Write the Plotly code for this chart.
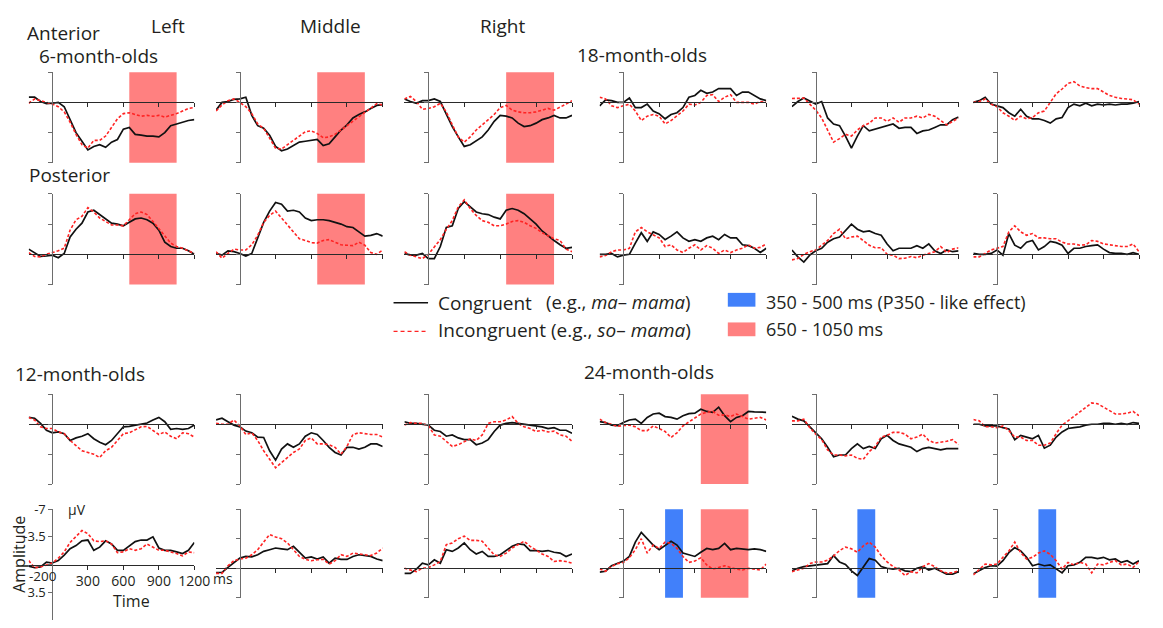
import plotly.graph_objects as go

# page body has an 8px default margin: keep the figure inside the 1163x628 window
OFF = 8
FW, FH = 1163 - 2 * OFF, 628 - 2 * OFF
TIMES = list(range(-200, 1201, 50))

# ---------------- data (µV, negative plotted up) ----------------
# 6-month-olds, anterior
m6_ant_L_con = [-0.6,-0.6,-0.1,0.15,0.1,0.0,0.5,2.1,3.5,4.5,5.5,5.1,4.9,5.2,4.6,4.3,3.1,2.9,3.7,3.8,3.9,3.9,4.0,3.5,2.7,2.5,2.3,2.1,2.0]
m6_ant_L_inc = [0.1,-0.4,-0.2,0.0,0.2,0.5,1.1,2.3,3.7,4.9,5.3,4.4,4.4,3.9,2.9,1.9,1.3,1.2,1.4,1.6,1.5,1.6,1.5,1.7,1.5,1.3,1.0,0.7,0.6]
m6_ant_M_con = [0.9,0.0,-0.1,-0.35,-0.4,-0.6,1.5,2.7,3.0,3.8,5.1,5.6,5.4,5.0,4.6,4.5,4.4,4.3,5.0,4.8,4.0,3.2,2.6,1.8,1.4,1.1,0.7,0.35,0.25]
m6_ant_M_inc = [1.0,0.3,-0.2,-0.4,0.0,0.5,1.3,2.5,3.0,4.1,5.3,5.4,4.9,4.5,3.9,3.4,3.3,3.6,4.1,4.0,3.7,3.2,2.7,2.1,1.6,1.1,0.7,0.15,0.3]
m6_ant_R_con = [-0.4,-0.1,0.1,-0.2,-0.2,-0.4,-0.1,1.4,2.8,4.0,5.1,4.9,4.4,4.0,3.2,2.2,1.5,1.6,1.8,2.4,2.8,2.7,2.4,2.0,1.8,1.5,1.8,1.8,1.5]
m6_ant_R_inc = [-0.4,-0.7,-0.1,0.8,0.7,0.5,0.1,1.1,2.6,4.0,4.6,4.0,3.2,2.6,2.1,1.4,0.6,0.35,0.9,1.1,1.2,1.2,1.1,0.9,0.7,0.9,0.5,0.2,-0.2]
# 6-month-olds, posterior
m6_post_L_con = [-0.6,-0.15,0.25,0.2,0.1,0.4,-0.1,-2.0,-2.9,-3.6,-4.9,-5.1,-4.6,-4.0,-3.6,-3.5,-3.3,-3.7,-4.1,-4.2,-4.0,-3.6,-2.8,-1.4,-0.9,-0.7,-0.7,-0.4,0.0]
m6_post_L_inc = [-0.2,0.25,0.3,0.0,-0.2,-0.4,-0.7,-2.8,-4.0,-4.4,-5.4,-4.9,-4.2,-3.8,-3.4,-3.4,-3.3,-4.0,-4.7,-4.9,-4.6,-3.8,-3.0,-2.1,-1.3,-0.9,-0.7,-0.4,-0.1]
m6_post_M_con = [-0.1,0.1,-0.4,-0.3,-0.1,0.2,-0.1,-1.8,-3.7,-5.0,-6.0,-5.8,-5.0,-5.1,-4.9,-4.2,-3.9,-4.0,-4.0,-3.9,-3.7,-3.5,-3.2,-3.1,-2.6,-2.1,-2.2,-2.4,-2.1]
m6_post_M_inc = [-0.3,0.45,-0.1,-0.6,-0.5,-0.5,-1.1,-2.2,-3.7,-4.5,-5.0,-4.2,-3.3,-2.6,-1.8,-1.6,-1.35,-1.3,-1.6,-1.7,-1.4,-1.1,-1.05,-1.0,-1.4,-1.05,-0.2,0.0,-0.5]
m6_post_R_con = [-0.1,0.1,0.1,-0.1,0.5,0.5,-0.9,-3.1,-3.3,-5.3,-6.1,-5.5,-4.9,-4.7,-4.6,-4.3,-4.1,-5.1,-5.3,-5.1,-4.7,-4.1,-3.5,-2.7,-2.1,-1.6,-1.1,-0.7,-0.8]
m6_post_R_inc = [-0.3,0.1,0.3,0.5,0.0,-0.9,-1.7,-2.9,-3.9,-5.5,-6.3,-5.3,-4.5,-3.9,-3.7,-3.3,-3.3,-3.5,-3.8,-3.9,-3.7,-3.3,-3.0,-2.5,-2.1,-1.8,-1.6,-0.6,-0.3]
# 18-month-olds, anterior
m18_ant_L_con = [0.4,-0.3,-0.2,0.0,0.0,-0.5,0.6,0.6,0.2,1.0,1.3,1.9,1.4,1.2,0.6,-0.6,-0.8,-1.4,-1.05,-1.2,-1.6,-1.6,-1.6,-0.8,-1.2,-1.2,-0.8,-0.4,-0.2]
m18_ant_L_inc = [-0.6,-0.4,0.4,0.6,0.4,0.2,1.0,2.1,1.6,1.4,1.6,2.5,2.1,1.6,1.0,0.2,0.3,0.0,-0.8,-0.9,-0.1,-0.6,-0.9,0.0,0.0,0.0,0.2,-0.1,0.0]
m18_ant_M_con = [0.5,-0.1,-0.5,-0.1,0.2,-0.1,1.8,2.5,2.7,3.9,5.3,3.9,2.7,3.3,3.1,2.9,2.7,2.5,3.0,2.9,2.9,3.6,3.3,3.2,2.9,2.6,2.6,2.0,1.7]
m18_ant_M_inc = [-0.45,-0.45,-0.5,0.2,0.9,1.8,3.3,4.6,4.2,3.7,3.9,3.2,2.7,2.4,1.8,1.8,2.2,1.8,2.3,1.8,1.8,1.6,1.8,1.4,1.6,2.1,2.6,2.2,1.8]
m18_ant_R_con = [0.0,-0.2,-0.6,0.2,0.4,0.6,1.2,1.6,0.8,1.6,1.9,1.9,2.1,2.4,1.9,1.75,0.6,0.2,0.4,0.1,0.4,0.2,0.3,0.2,0.3,0.2,0.2,0.1,-0.1]
m18_ant_R_inc = [0.0,-0.1,-0.4,0.2,0.5,1.2,1.6,2.1,1.6,1.9,1.75,1.2,1.0,0.0,-1.0,-1.55,-2.2,-2.4,-1.9,-1.7,-1.6,-1.6,-1.2,-0.8,-0.6,-0.45,-0.4,-0.3,0.2]
# 18-month-olds, posterior
m18_post_L_con = [0.0,0.0,-0.1,0.3,0.1,0.0,-1.3,-2.5,-1.5,-2.6,-2.3,-1.7,-2.1,-2.6,-1.9,-1.5,-1.7,-1.5,-1.9,-2.1,-1.7,-2.3,-1.9,-1.9,-1.1,-1.0,-0.7,-0.2,-0.7]
m18_post_L_inc = [0.3,0.15,-0.3,-0.5,-0.5,-0.7,-2.6,-3.1,-2.6,-2.2,-1.9,-0.9,-1.1,-0.5,-0.2,-0.7,-1.1,-0.5,-1.0,-0.7,-0.1,-0.5,-0.2,-0.5,-0.7,-1.1,-0.7,-0.8,-1.2]
m18_post_M_con = [-0.5,0.3,0.9,0.1,-0.4,-0.7,-1.4,-1.8,-2.0,-2.7,-3.5,-2.9,-2.6,-2.7,-2.4,-2.2,-1.2,-0.4,-0.7,-0.7,-0.7,-1.0,-0.7,-1.2,-0.4,-0.1,-0.5,-0.3,-0.4]
m18_post_M_inc = [0.65,0.5,0.0,-0.3,-0.5,-1.05,-1.6,-2.4,-2.9,-1.8,-2.0,-2.1,-1.6,-1.05,-0.75,-0.75,0.0,0.1,0.5,0.45,0.25,0.4,0.1,-0.1,-0.3,-0.9,-0.2,-0.6,-0.75]
m18_post_R_con = [-0.1,0.0,0.0,-0.1,-0.5,0.1,-2.4,-1.05,-0.7,-1.4,-1.6,-0.5,-0.9,-1.5,-1.35,-1.05,-0.1,-0.7,-0.7,-0.9,-1.0,-1.1,-0.6,-0.2,-0.1,-0.1,0.0,-0.2,0.0]
m18_post_R_inc = [0.3,0.3,-0.1,-0.5,-0.7,-0.9,-2.6,-3.3,-2.6,-2.2,-2.4,-1.9,-1.9,-1.8,-1.8,-1.4,-1.2,-1.2,-1.05,-1.1,-1.6,-1.5,-1.2,-1.1,-1.0,-0.9,-0.9,-1.2,-0.3]
# 12-month-olds, anterior
m12_ant_L_con = [-0.8,-0.7,-0.1,0.7,1.0,0.9,1.1,1.9,1.6,1.4,1.1,1.7,2.1,2.4,1.9,1.1,0.3,0.25,0.1,0.0,-0.15,-0.5,-0.8,-0.3,0.6,0.5,0.6,0.5,0.1]
m12_ant_L_inc = [-0.8,-0.5,0.3,0.5,0.5,0.9,1.1,1.9,2.5,3.1,3.3,3.5,3.9,3.1,2.7,1.9,1.1,1.0,0.6,0.3,0.25,0.7,1.2,0.9,1.4,1.7,1.0,1.1,1.5]
m12_ant_M_con = [-0.5,-0.7,-0.3,0.1,0.3,0.8,1.0,1.5,1.55,3.1,4.2,2.9,2.3,2.7,2.3,1.4,1.0,1.2,1.9,2.7,3.3,3.6,2.7,2.7,2.9,2.7,2.3,2.3,2.6]
m12_ant_M_inc = [-0.1,0.0,0.0,-0.5,0.2,1.2,1.0,1.9,3.1,4.1,5.1,4.5,3.9,3.3,2.9,1.9,1.6,2.3,2.3,2.4,2.7,3.5,2.6,1.2,1.0,1.1,1.2,1.2,1.5]
m12_ant_R_con = [-0.3,-0.1,-0.1,0.0,0.1,0.7,0.85,1.4,1.25,1.6,1.8,1.8,2.4,2.2,1.8,0.85,0.1,-0.1,-0.2,-0.1,0.0,0.1,0.15,0.3,0.5,0.4,0.7,0.7,1.05]
m12_ant_R_inc = [0.1,-0.2,-0.1,-0.1,0.15,1.25,1.4,2.0,2.6,2.4,2.0,1.7,1.9,1.25,-0.1,-0.3,-0.3,-0.5,-0.9,-0.1,0.3,0.5,0.85,0.7,0.9,0.8,1.25,1.4,2.0]
# 12-month-olds, posterior
m12_post_L_con = [0.2,0.4,0.3,-0.3,-0.2,-0.5,-1.2,-2.0,-2.4,-3.0,-3.1,-1.8,-2.2,-3.0,-2.6,-1.8,-1.8,-2.4,-2.9,-3.1,-3.1,-3.5,-2.1,-1.8,-1.8,-1.6,-1.4,-1.8,-2.8]
m12_post_L_inc = [-0.5,0.4,0.3,0.0,-0.2,-0.8,-1.6,-2.8,-3.6,-4.3,-3.9,-3.0,-2.9,-3.0,-2.6,-1.5,-1.6,-2.0,-1.8,-2.0,-2.6,-2.2,-1.8,-1.8,-1.6,-1.4,-1.1,-1.6,-1.5]
m12_post_M_con = [0.5,0.5,-0.1,-0.7,-1.2,-1.4,-1.35,-1.6,-2.0,-2.2,-2.4,-2.3,-2.2,-2.6,-1.9,-1.2,-1.35,-1.1,-1.35,-0.6,-1.2,-1.05,-1.05,-1.4,-1.6,-1.5,-1.4,-1.1,-0.9]
m12_post_M_inc = [0.6,0.6,-0.3,-0.9,-1.1,-1.2,-1.6,-2.2,-3.1,-4.0,-3.7,-3.5,-3.0,-2.2,-1.4,-1.05,-0.9,-1.0,-1.05,-0.5,-0.9,-1.6,-1.4,-1.8,-1.7,-1.6,-1.5,-1.8,-2.4]
m12_post_R_con = [0.6,0.6,0.1,-0.6,-0.4,-1.0,-0.6,-2.2,-2.0,-2.4,-3.0,-2.2,-1.7,-2.0,-1.4,-1.4,-1.6,-2.1,-2.6,-2.9,-2.8,-2.1,-2.1,-2.0,-2.1,-1.9,-1.8,-1.4,-1.7]
m12_post_R_inc = [0.0,0.2,0.4,0.0,-0.1,-0.4,-0.8,-2.8,-3.0,-3.5,-3.8,-3.3,-3.3,-3.2,-2.4,-1.6,-1.4,-1.8,-2.4,-2.8,-3.2,-2.6,-2.1,-1.7,-1.4,-0.8,-0.9,-0.8,-0.6]
# 24-month-olds, anterior
m24_ant_L_con = [-0.3,-0.2,0.1,0.15,-0.2,-0.5,-0.6,-0.1,-0.8,-1.2,-1.3,-0.9,-0.8,-0.6,-1.0,-1.25,-1.3,-1.75,-1.5,-1.4,-2.0,-1.0,-0.3,-0.8,-1.0,-1.5,-1.45,-1.45,-1.4]
m24_ant_L_inc = [-0.6,-0.2,0.0,0.25,0.15,0.1,0.3,0.75,0.75,0.2,0.5,0.85,1.55,1.0,0.2,-0.3,-0.7,-1.2,-1.4,-1.5,-1.05,-1.1,-0.9,-1.2,-0.9,-0.6,-0.7,-0.8,-0.5]
m24_ant_M_con = [-0.95,-0.6,-0.4,0.3,0.95,1.7,2.7,3.8,3.6,3.6,2.85,2.3,2.85,2.6,2.85,1.7,1.3,1.9,2.3,2.5,2.7,3.2,2.85,2.7,2.85,3.0,2.85,2.85,2.85]
m24_ant_M_inc = [-0.4,-0.4,-0.6,0.4,1.15,1.8,3.0,3.6,3.6,3.7,3.6,4.0,4.1,3.2,2.6,1.5,1.3,0.95,0.95,1.15,1.7,1.5,1.15,1.9,2.2,2.1,2.0,1.8,2.4]
m24_ant_R_con = [0.0,0.0,0.2,0.2,0.2,0.4,0.55,1.8,1.3,1.5,1.7,1.3,2.8,2.45,1.5,0.9,0.5,0.4,0.3,0.1,0.0,0.0,-0.1,-0.1,0.0,-0.1,0.0,-0.2,-0.1]
m24_ant_R_inc = [-0.55,-0.4,0.3,0.3,0.4,0.2,0.75,1.5,1.5,1.9,1.9,2.45,2.45,2.2,1.1,0.1,-0.4,-0.9,-1.4,-1.9,-2.5,-2.4,-2.0,-1.5,-1.2,-1.2,-1.3,-1.5,-1.0]
# 24-month-olds, posterior
m24_post_L_con = [0.45,0.35,-0.3,-0.55,-0.85,-1.4,-3.1,-4.25,-3.5,-2.75,-2.2,-2.75,-3.2,-2.75,-1.8,-1.6,-1.4,-1.9,-2.35,-2.2,-2.35,-2.95,-2.2,-2.35,-2.3,-2.2,-2.3,-2.2,-2.0]
m24_post_L_inc = [0.1,0.35,-0.2,-0.55,-0.7,-1.25,-2.2,-3.5,-1.8,-2.75,-2.35,-3.1,-2.95,-2.35,-1.4,-0.7,-0.85,-1.25,-0.4,0.1,-0.1,-0.3,-0.1,0.1,0.2,0.0,0.1,0.2,-0.5]
m24_post_M_con = [0.3,0.0,-0.2,-0.3,-0.4,-0.45,-0.55,-1.5,-0.75,-0.45,0.3,0.85,-0.2,-1.15,-0.95,-0.2,0.0,0.1,0.0,0.3,0.4,0.0,-0.2,0.2,0.0,0.4,0.7,0.7,0.4]
m24_post_M_inc = [0.4,0.2,0.0,-0.55,-0.75,-0.75,-0.95,-1.45,-2.1,-2.5,-2.3,-1.9,-2.65,-3.1,-2.5,-1.5,-0.75,-0.2,0.2,0.85,0.4,0.55,-0.2,-0.55,-0.2,0.3,0.55,0.55,0.3]
m24_post_R_con = [0.65,0.3,-0.1,-0.3,-0.25,-0.9,-1.85,-2.45,-2.05,-1.3,-0.3,-0.5,-0.3,-0.4,0.1,0.55,-0.3,-0.4,-0.7,-1.3,-1.3,-1.15,-1.3,-1.0,-1.1,-0.7,-0.9,-0.5,-0.9]
m24_post_R_inc = [0.8,0.15,-0.5,-0.4,-0.5,-1.3,-2.05,-3.1,-1.85,-1.1,-1.3,-1.8,-2.05,-1.65,-0.9,0.1,-0.7,-0.4,-0.7,-0.5,0.55,-0.5,-0.4,-0.7,-0.9,-0.4,-0.5,-0.1,-0.8]

RED_WIN = [650, 1050]
BLUE_WIN = [350, 500]

X_TICKS = [300, 600, 900, 1200]
X_TICK_TEXT = ["300", "600", "900", "1200"]
Y_TICKS = [-7, -3.5, 0, 3.5, 7]
Y_TICK_TEXT = ["-7", "-3.5", "", "3.5", "-7"]

# ---------------- layout geometry (window pixels) ----------------
COLS = [(29, 197), (219, 388), (410, 580), (608, 777), (803, 972), (987, 1155)]
# (top px, bottom px, value at top, value at bottom)
ROWS = [(64, 156, -3.5, 7), (187.5, 279.5, -7, 3.5), (391, 482, -3.5, 7), (507.5, 597.5, -7, 3.5)]


def px2x(px):
    return min(1.0, max(0.0, (px - OFF) / FW))


def py2y(py):
    return min(1.0, max(0.0, 1 - (py - OFF) / FH))


panels = [
    (0, 0, m6_ant_L_con, m6_ant_L_inc, ["red"]),
    (0, 1, m6_ant_M_con, m6_ant_M_inc, ["red"]),
    (0, 2, m6_ant_R_con, m6_ant_R_inc, ["red"]),
    (0, 3, m18_ant_L_con, m18_ant_L_inc, []),
    (0, 4, m18_ant_M_con, m18_ant_M_inc, []),
    (0, 5, m18_ant_R_con, m18_ant_R_inc, []),
    (1, 0, m6_post_L_con, m6_post_L_inc, ["red"]),
    (1, 1, m6_post_M_con, m6_post_M_inc, ["red"]),
    (1, 2, m6_post_R_con, m6_post_R_inc, ["red"]),
    (1, 3, m18_post_L_con, m18_post_L_inc, []),
    (1, 4, m18_post_M_con, m18_post_M_inc, []),
    (1, 5, m18_post_R_con, m18_post_R_inc, []),
    (2, 0, m12_ant_L_con, m12_ant_L_inc, []),
    (2, 1, m12_ant_M_con, m12_ant_M_inc, []),
    (2, 2, m12_ant_R_con, m12_ant_R_inc, []),
    (2, 3, m24_ant_L_con, m24_ant_L_inc, ["red"]),
    (2, 4, m24_ant_M_con, m24_ant_M_inc, []),
    (2, 5, m24_ant_R_con, m24_ant_R_inc, []),
    (3, 0, m12_post_L_con, m12_post_L_inc, []),
    (3, 1, m12_post_M_con, m12_post_M_inc, []),
    (3, 2, m12_post_R_con, m12_post_R_inc, []),
    (3, 3, m24_post_L_con, m24_post_L_inc, ["blue", "red"]),
    (3, 4, m24_post_M_con, m24_post_M_inc, ["blue"]),
    (3, 5, m24_post_R_con, m24_post_R_inc, ["blue"]),
]

FONT = "Open Sans, Lato, sans-serif"
TXT = "#231f20"
RED_FILL = "#ff8080"
BLUE_FILL = "#4180fa"
CON_COLOR = "#111111"
INC_COLOR = "#ff2323"

fig = go.Figure()
layout = dict(
    width=FW, height=FH, margin=dict(l=0, r=0, t=0, b=0),
    paper_bgcolor="white", plot_bgcolor="rgba(0,0,0,0)",
    showlegend=False, font=dict(family=FONT, color=TXT),
)
shapes = []
annotations = []

for k, (r, c, con, inc, shades) in enumerate(panels, start=1):
    xa = "x" if k == 1 else f"x{k}"
    ya = "y" if k == 1 else f"y{k}"
    xkey = "xaxis" if k == 1 else f"xaxis{k}"
    ykey = "yaxis" if k == 1 else f"yaxis{k}"
    labeled = (r == 3 and c == 0)
    x0p, x1p = COLS[c]
    ytop, ybot, vtop, vbot = ROWS[r]
    if labeled:
        ybot, vbot = 620, 7
    xdom = [px2x(x0p), px2x(x1p)]
    ydom = [py2y(ybot), py2y(ytop)]
    yzero = ydom[0] + (vbot - 0) / (vbot - vtop) * (ydom[1] - ydom[0])
    xzero = xdom[0] + (0 - (-200)) / 1400 * (xdom[1] - xdom[0])
    yt = [v for v in Y_TICKS if min(vtop, vbot) <= v <= max(vtop, vbot)]

    layout[xkey] = dict(
        domain=xdom, range=[-200, 1200], anchor="free", position=yzero,
        showline=True, linecolor="#2a2a2a", linewidth=1, showgrid=False, zeroline=False,
        ticks="outside", ticklen=4, tickwidth=1, tickcolor="#2a2a2a",
        tickvals=X_TICKS, ticktext=X_TICK_TEXT, showticklabels=labeled,
        tickfont=dict(family=FONT, size=14, color=TXT),
    )
    layout[ykey] = dict(
        domain=ydom, range=[vbot, vtop], anchor="free", position=xzero,
        showline=True, linecolor="#6d6d6d", linewidth=1, showgrid=False, zeroline=False,
        ticks="outside", ticklen=4, tickwidth=1, tickcolor="#6d6d6d",
        tickvals=yt, ticktext=[Y_TICK_TEXT[Y_TICKS.index(v)] for v in yt],
        showticklabels=labeled,
        tickfont=dict(family=FONT, size=13, color=TXT),
    )
    for s in shades:
        win = RED_WIN if s == "red" else BLUE_WIN
        shapes.append(dict(
            type="rect", xref=xa, yref=f"{ya} domain", x0=win[0], x1=win[1], y0=0, y1=1,
            fillcolor=RED_FILL if s == "red" else BLUE_FILL, line=dict(width=0), layer="below",
        ))
    fig.add_trace(go.Scatter(x=TIMES, y=con, xaxis=xa, yaxis=ya, mode="lines",
                             line=dict(color=CON_COLOR, width=1.7), hoverinfo="skip"))
    fig.add_trace(go.Scatter(x=TIMES, y=inc, xaxis=xa, yaxis=ya, mode="lines",
                             line=dict(color=INC_COLOR, width=1.6, dash="3px,2px"), hoverinfo="skip"))


def ann(text, px, py, size, xanchor="left", angle=0):
    annotations.append(dict(
        text=text, x=px2x(px), y=py2y(py), xref="paper", yref="paper",
        xanchor=xanchor, yanchor="middle", showarrow=False, textangle=angle,
        font=dict(family=FONT, size=size, color=TXT),
    ))


# titles
ann("Anterior", 25, 24, 19)
ann("6-month-olds", 37, 48, 19)
ann("Left", 170, 17, 19, "center")
ann("Middle", 335, 17, 19, "center")
ann("Right", 510, 17, 19, "center")
ann("Posterior", 27, 168, 19)
ann("18-month-olds", 583, 47, 19)
ann("12-month-olds", 13, 370, 19)
ann("24-month-olds", 590, 368, 19)

# axis labels of the annotated panel
ann("-200", 43, 575, 13.5, "center")
ann("ms", 214, 578, 14)
ann("µV", 67, 508, 14)
ann("Time", 133, 601, 16, "center")
ann("Amplitude", 19, 553, 16, "center", -90)

# legend
shapes.append(dict(type="line", xref="paper", yref="paper", x0=px2x(399), x1=px2x(434),
                   y0=py2y(298), y1=py2y(298), line=dict(color=CON_COLOR, width=1.3)))
shapes.append(dict(type="line", xref="paper", yref="paper", x0=px2x(399), x1=px2x(434),
                   y0=py2y(327), y1=py2y(327), line=dict(color=INC_COLOR, width=1.3, dash="4px,3px")))
ann("Congruent", 442, 298, 19)
ann("(e.g., <i>ma</i>– <i>mama</i>)", 703, 297, 18.5, "right")
ann("Incongruent (e.g., <i>so</i>– <i>mama</i>)", 442, 326, 19)
shapes.append(dict(type="rect", xref="paper", yref="paper", x0=px2x(738), x1=px2x(766),
                   y0=py2y(302), y1=py2y(288), fillcolor=BLUE_FILL, line=dict(width=0)))
shapes.append(dict(type="rect", xref="paper", yref="paper", x0=px2x(738), x1=px2x(766),
                   y0=py2y(332), y1=py2y(318), fillcolor=RED_FILL, line=dict(width=0)))
ann("350 - 500 ms (P350 - like effect)", 775, 297, 18)
ann("650 - 1050 ms", 775, 325, 18)

layout["shapes"] = shapes
layout["annotations"] = annotations
fig.update_layout(**layout)
fig.write_html("out.html")
